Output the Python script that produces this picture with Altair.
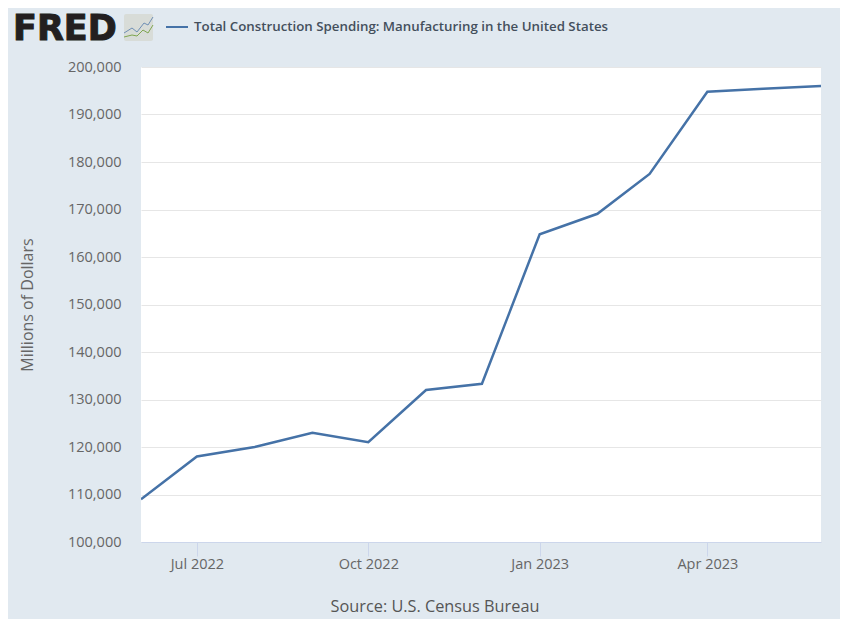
import altair as alt
import pandas as pd

months = ["2022-06-01", "2022-07-01", "2022-08-01", "2022-09-01", "2022-10-01", "2022-11-01",
          "2022-12-01", "2023-01-01", "2023-02-01", "2023-03-01", "2023-04-01", "2023-05-01", "2023-06-01"]
spending = [109000, 118000, 120000, 123000, 121000, 132000, 133300, 164800, 169100, 177500, 194800, 195400, 196000]
tick_dates = ["2022-07-01", "2022-10-01", "2023-01-01", "2023-04-01"]
y_ticks = [100000, 110000, 120000, 130000, 140000, 150000, 160000, 170000, 180000, 190000, 200000]
series_name = "Total Construction Spending: Manufacturing in the United States"
source = "Source: U.S. Census Bureau"
y_title = "Millions of Dollars"
logo = "FRED"

BG = "#e1e9f0"
FONT = "Open Sans"
LINE = "#4572a7"
W, H = 680, 475

df = pd.DataFrame({"date": pd.to_datetime(months), "value": spending})

x_axis = alt.Axis(
    values=[pd.Timestamp(d).isoformat() for d in tick_dates],
    labelExpr="timeFormat(datum.value, '%b %Y')",
    title=None, grid=False, domainColor="#ccd6eb", domainWidth=1,
    tickColor="#ccd6eb", tickSize=14, labelPadding=1,
    labelFont=FONT, labelFontSize=14.5, labelColor="#666666", labelOverlap=False,
)
y_axis = alt.Axis(
    values=y_ticks, labelExpr="format(datum.value, ',.0f')", title=y_title, titleFont=FONT, titleFontSize=16,
    titleColor="#666666", titleFontWeight="normal", titlePadding=32,
    grid=True, gridColor="#e6e6e6", gridWidth=1, domain=False, ticks=False,
    labelFont=FONT, labelFontSize=14.5, labelColor="#666666", labelPadding=20,
)

line = alt.Chart(df).mark_line(color=LINE, strokeWidth=2.5, clip=True).encode(
    x=alt.X("date:T", axis=x_axis, scale=alt.Scale(domain=[pd.Timestamp(months[0]).isoformat(), pd.Timestamp(months[-1]).isoformat()])),
    y=alt.Y("value:Q", axis=y_axis, scale=alt.Scale(domain=[100000, 200000], nice=False)),
)

def label(text, x, y, **kw):
    return alt.Chart(pd.DataFrame({"t": [text]})).mark_text(**kw).encode(
        x=alt.value(x), y=alt.value(y), text="t:N"
    )

series_label = label(series_name, 53, -40, font=FONT, fontSize=13.3, fontWeight=600, color="#444f5c", align="left", baseline="middle")
source_label = label(source, 294, 540, font=FONT, fontSize=16.3, color="#555555", align="center", baseline="middle")
logo_label = label(logo, -128, -38, font="DejaVu Sans", fontSize=35, fontWeight="bold", color="#231f20", stroke="#231f20", strokeWidth=1, align="left", baseline="middle")

legend_line = alt.Chart(pd.DataFrame({"a": [0]})).mark_rule(color=LINE, strokeWidth=2).encode(
    x=alt.value(25), x2=alt.value(47), y=alt.value(-40))

icon_bg = alt.Chart(pd.DataFrame({"a": [0]})).mark_rect(color="#d8dcd8", cornerRadius=2).encode(
    x=alt.value(-17), x2=alt.value(12), y=alt.value(-53), y2=alt.value(-26))

def zigzag(points, color):
    layers = []
    for (x0, y0), (x1, y1) in zip(points, points[1:]):
        layers.append(alt.Chart(pd.DataFrame({"a": [0]})).mark_rule(color=color, strokeWidth=1).encode(
            x=alt.value(x0), x2=alt.value(x1), y=alt.value(y0), y2=alt.value(y1)))
    return layers

icon_blue = zigzag([(-17, -34), (-9, -39), (-4, -35), (3, -44), (7, -42), (12, -50)], "#6f8fb5")
icon_green = zigzag([(-17, -30), (-9, -32), (-4, -31), (2, -37), (7, -34), (12, -42)], "#7fa650")

chart = alt.layer(icon_bg, *icon_blue, *icon_green, legend_line, logo_label, series_label, source_label, line).properties(
    width=W, height=H, background=BG,
    padding={"left": 133, "top": 59, "right": 19, "bottom": 77},
    autosize=alt.AutoSizeParams(type="none", contains="content"),
).configure_view(fill="white", stroke=None)

chart.save("out.html", embed_options={"renderer": "svg", "actions": False})
